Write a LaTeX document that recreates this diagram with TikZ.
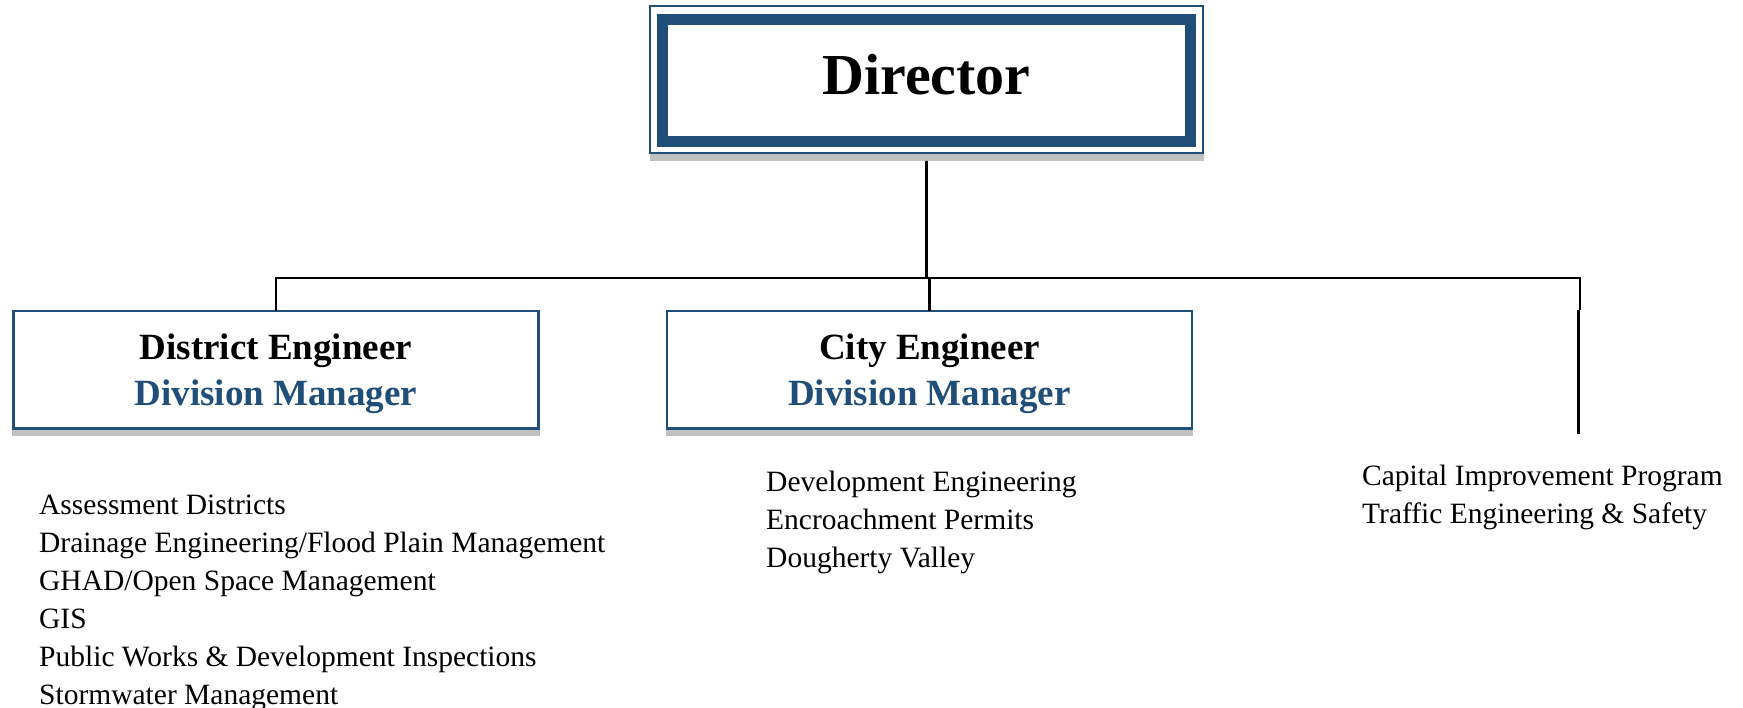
\documentclass[tikz,border=0pt]{standalone}
\usepackage{fontspec}
\setmainfont{Liberation Serif}
\definecolor{dblue}{RGB}{31,78,121}
\definecolor{shadowgray}{RGB}{192,192,192}
\begin{document}
\begin{tikzpicture}[x=1pt,y=-1pt,
  conn/.style={line width=2.7pt,black},
  mgrbox/.style={draw=dblue,line width=2.6pt,minimum width=525pt,minimum height=117.7pt,inner sep=0pt,outer sep=0pt,align=center,text depth=0pt,font=\fontsize{37}{46.5}\selectfont\bfseries},
  item/.style={anchor=base west,inner sep=0pt,font=\fontsize{29.5}{36}\selectfont}]
\useasboundingbox (0,0) rectangle (1743,708);
% Director
\node[draw=dblue,line width=11pt,minimum width=528pt,minimum height=121.8pt,inner sep=0pt,outer sep=0pt,text depth=13pt,
  font=\fontsize{58}{60}\selectfont\bfseries] (director) at (926.5,80.4) {Director};
\fill[shadowgray] ([shift={(-13,12)}]director.south west) rectangle ([shift={(13,19.4)}]director.south east);
\draw[dblue,line width=2pt] ([shift={(-12.8,-13)}]director.north west) rectangle ([shift={(12.8,12)}]director.south east);
\coordinate (dtop) at ([shift={(0,19.4)}]director.south);
% Managers
\node[mgrbox] (dist) at (276,369.9) {District Engineer\\\textcolor{dblue}{Division Manager}};
\node[mgrbox] (city) at (929.5,369.9) {City Engineer\\\textcolor{dblue}{Division Manager}};
\fill[shadowgray] ([shift={(-1.3,1.3)}]dist.south west) rectangle ([shift={(1.3,7)}]dist.south east);
\fill[shadowgray] ([shift={(-1.3,1.3)}]city.south west) rectangle ([shift={(1.3,7)}]city.south east);
% Bus
\coordinate (busL) at (276,278);
\coordinate (busR) at (1580,278);
\coordinate (rjog) at (1580,310);
\coordinate (rjogb) at (1578.5,310);
\coordinate (rend) at (1578.5,434);
\draw[conn] (dtop) -- (dtop |- busL);
\draw[conn] (dist.north) -- (busL) -- (busR) -- (rjog);
\draw[conn] (rjogb) -- (rend);
\draw[conn] (city.north) -- (city.north |- busL);
% Lists
\node[item] (l1) at (39,514) {Assessment Districts};
\node[item] (l2) at (39,552) {Drainage Engineering/Flood Plain Management};
\node[item] (l3) at (39,590) {GHAD/Open Space Management};
\node[item] (l4) at (39,628) {GIS};
\node[item] (l5) at (39,666) {Public Works \& Development Inspections};
\node[item] (l6) at (39,704) {Stormwater Management};
\node[item] (m1) at (766,491) {Development Engineering};
\node[item] (m2) at (766,529) {Encroachment Permits};
\node[item] (m3) at (766,567) {Dougherty Valley};
\node[item] (r1) at (1362,485) {Capital Improvement Program};
\node[item] (r2) at (1362,523.5) {Traffic Engineering \& Safety};
\end{tikzpicture}
\end{document}
